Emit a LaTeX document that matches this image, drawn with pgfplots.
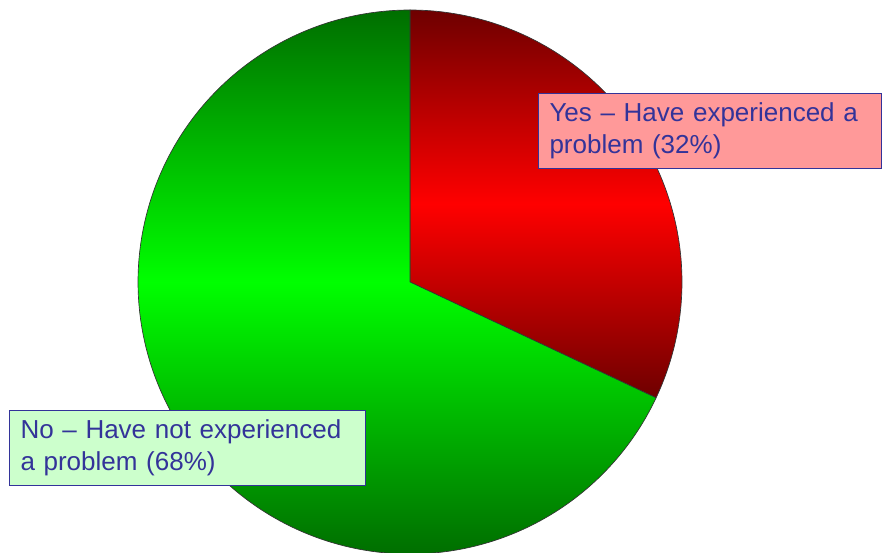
\documentclass[border=0pt]{standalone}
\usepackage{pgfplots}
\pgfplotsset{compat=1.18}
\usepackage{pgfplotstable}
\usepackage{fontspec}
\setmainfont{Liberation Sans}
\definecolor{txt}{HTML}{333399}
\definecolor{pinkbox}{HTML}{FF9999}
\definecolor{greenbox}{HTML}{CCFFCC}
\definecolor{dred}{HTML}{6E0000}
\definecolor{bred}{HTML}{FF0000}
\definecolor{dgreen}{HTML}{006E00}
\definecolor{bgreen}{HTML}{00FF00}
\pgfplotstableread{
label value
Yes 32
No 68
}\piedata
\pgfplotstablegetelem{0}{value}\of\piedata
\edef\yesval{\pgfplotsretval}
\pgfmathsetmacro\yesang{3.6*\yesval}
\begin{document}
\begin{tikzpicture}
\useasboundingbox (0,0) rectangle (661.5pt,414.75pt);
\begin{axis}[
  at={(0,0)}, anchor=south west,
  x=0.75pt, y=0.75pt,
  xmin=0, xmax=882, ymin=0, ymax=553,
  enlargelimits=false,
  hide axis,
]
\addplot[draw=black!80, line width=0.5pt, top color=dred, bottom color=dred, middle color=bred,
  domain=0:\yesang, samples=150]
  ({410+272*sin(x)},{271+272*cos(x)}) -- (axis cs:410,271) -- cycle;
\addplot[draw=black!80, line width=0.5pt, top color=dgreen, bottom color=dgreen, middle color=bgreen,
  domain=\yesang:360, samples=250]
  ({410+272*sin(x)},{271+272*cos(x)}) -- (axis cs:410,271) -- cycle;
\node[draw=txt, line width=0.75pt, fill=pinkbox, anchor=north west,
  text width=240.75pt, minimum height=56.25pt, inner xsep=8.25pt, align=left,
  font=\fontsize{19.5}{24}\selectfont, text=txt]
  at (axis cs:538,460) {Yes – Have experienced a\\problem (32\%)};
\node[draw=txt, line width=0.75pt, fill=greenbox, anchor=north west,
  text width=250.5pt, minimum height=56.25pt, inner xsep=8.25pt, align=left,
  font=\fontsize{19.5}{24}\selectfont, text=txt]
  at (axis cs:9,143) {No – Have not experienced\\a problem (68\%)};
\end{axis}
\end{tikzpicture}
\end{document}
